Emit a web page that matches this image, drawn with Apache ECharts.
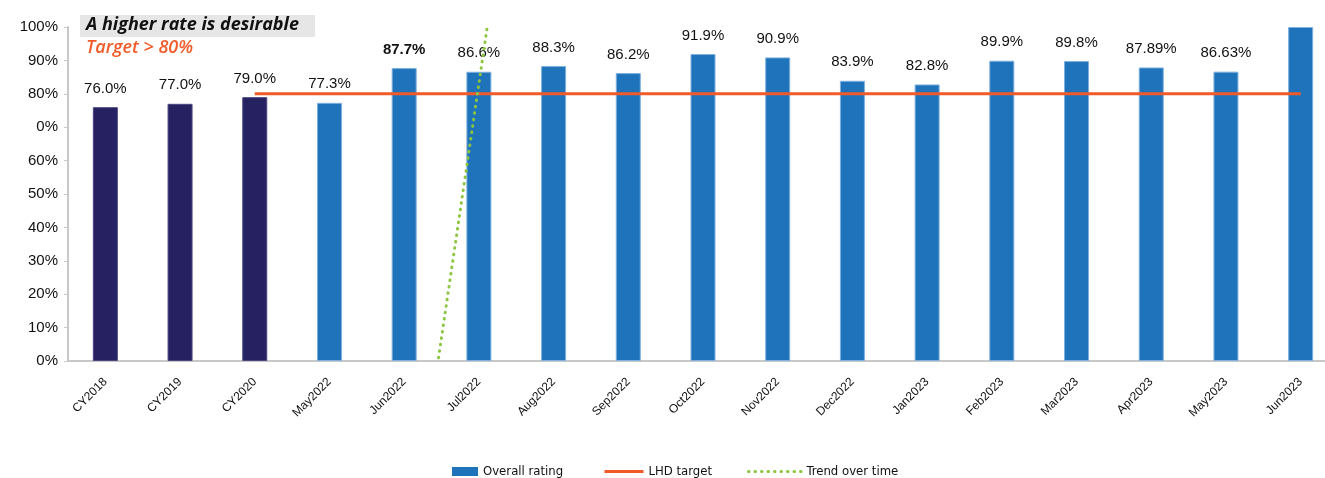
<!DOCTYPE html>
<html>
<head>
<meta charset="utf-8">
<script src="https://cdn.jsdelivr.net/npm/echarts@6/dist/echarts.min.js"></script>
<style>
  html, body { margin: 0; padding: 0; background: #fff; overflow: hidden; width: 1325px; height: 478px; }
  /* the canvas is a little wider than the page: the last category runs past the right edge */
  #chart { width: 1338px; height: 478px; }
</style>
</head>
<body>
<div id="chart"></div>
<script>
// Periods shown along the x axis
const categories = ['CY2018', 'CY2019', 'CY2020', 'May2022', 'Jun2022', 'Jul2022', 'Aug2022',
  'Sep2022', 'Oct2022', 'Nov2022', 'Dec2022', 'Jan2023', 'Feb2023', 'Mar2023', 'Apr2023',
  'May2023', 'Jun2023'];

// Overall rating (%) per period
const ratingValues = [76.0, 77.0, 79.0, 77.3, 87.7, 86.6, 88.3, 86.2, 91.9, 90.9, 83.9, 82.8,
  89.9, 89.8, 87.89, 86.63, 100];
// Decimal places printed in each value label (null = no label)
const labelDecimals = [1, 1, 1, 1, 1, 1, 1, 1, 1, 1, 1, 1, 1, 1, 2, 2, null];
// Calendar-year summaries are drawn in a darker colour
const annualPeriods = ['CY2018', 'CY2019', 'CY2020'];
// Label drawn in bold
const boldLabels = ['Jun2022'];

// LHD target (%), shown from CY2020 onwards
const targetValues = [null, null, 80, 80, 80, 80, 80, 80, 80, 80, 80, 80, 80, 80, 80, 80, 80];

// Trend over time: position along the category index scale and value (%)
const trendX = [4.46, 5.11];
const trendY = [1, 99.7];

// Y-axis tick labels, indexed by tick value / 10
const yTickLabels = ['0%', '10%', '20%', '30%', '40%', '50%', '60%', '0%', '80%', '90%', '100%'];

const navy = '#262261';
const blue = '#1f73bb';
const orange = '#f15a29';
const green = '#8cc63f';

const legendFont = { color: '#111', fontSize: 13, fontFamily: 'Liberation Sans Narrow, DejaVu Sans Condensed, sans-serif' };

const chart = echarts.init(document.getElementById('chart'), null, { renderer: 'canvas' });

const option = {
  animation: false,
  grid: { left: 68, right: 0, top: 27, bottom: 117, containLabel: false },
  xAxis: [
    {
      type: 'category',
      data: categories,
      boundaryGap: true,
      axisLine: { onZero: false, lineStyle: { color: '#c8c8c8', width: 2 } },
      axisTick: { show: false },
      axisLabel: {
        rotate: 45,
        interval: 0,
        margin: 19,
        color: '#111',
        fontSize: 12,
        fontFamily: 'Liberation Sans, Arial, sans-serif'
      }
    },
    {
      type: 'value',
      min: -0.5,
      max: 16.5,
      show: false
    }
  ],
  yAxis: {
    type: 'value',
    min: 0,
    max: 100,
    interval: 10,
    splitLine: { show: false },
    axisLine: { show: true, onZero: false, lineStyle: { color: '#c8c8c8', width: 2 } },
    axisTick: { show: true, length: 4, lineStyle: { color: '#c8c8c8' } },
    axisLabel: {
      margin: 10,
      color: '#111',
      fontSize: 15,
      fontFamily: 'Liberation Sans, Arial, sans-serif',
      formatter: v => yTickLabels[Math.round(v / 10)]
    }
  },
  legend: [
    {
      data: [{ name: 'Overall rating', icon: 'rect' }],
      left: 447, top: 460,
      itemWidth: 26, itemHeight: 9, itemGap: 6,
      textStyle: legendFont
    },
    {
      data: ['LHD target'],
      left: 598, top: 460,
      itemWidth: 39, itemHeight: 9,
      itemStyle: { opacity: 0 },
      lineStyle: { width: 3 },
      textStyle: legendFont
    },
    {
      data: ['Trend over time'],
      left: 742, top: 460,
      itemWidth: 53, itemHeight: 9,
      itemStyle: { opacity: 0 },
      lineStyle: { width: 3, type: [0.5, 6], cap: 'round' },
      textStyle: legendFont
    }
  ],
  graphic: [
    {
      type: 'rect',
      left: 80, top: 15,
      shape: { width: 235, height: 22 },
      style: { fill: '#e6e6e6' },
      silent: true
    },
    {
      type: 'text',
      left: 86, top: 16,
      style: {
        text: 'A higher rate is desirable',
        fill: '#111',
        font: 'italic bold 18px "Open Sans", sans-serif'
      }
    },
    {
      type: 'text',
      left: 86, top: 39,
      style: {
        text: 'Target > 80%',
        fill: orange,
        font: 'italic 600 18px "Open Sans", sans-serif'
      }
    }
  ],
  series: [
    {
      name: 'Overall rating',
      type: 'bar',
      barWidth: 25,
      itemStyle: { color: blue },
      data: ratingValues.map((v, i) => ({
        value: v,
        itemStyle: {
          color: annualPeriods.includes(categories[i]) ? navy : blue,
          borderColor: annualPeriods.includes(categories[i]) ? '#4a4780' : '#7fb0de',
          borderWidth: 1
        },
        label: {
          show: labelDecimals[i] !== null,
          fontWeight: boldLabels.includes(categories[i]) ? 'bold' : 'normal'
        }
      })),
      label: {
        show: true,
        position: 'top',
        distance: 11,
        color: '#111',
        fontSize: 15,
        fontFamily: 'Liberation Sans, Arial, sans-serif',
        formatter: p => {
          const d = labelDecimals[p.dataIndex];
          return d === null ? '' : p.value.toFixed(d) + '%';
        }
      },
      z: 2
    },
    {
      name: 'LHD target',
      type: 'line',
      data: targetValues,
      symbol: 'none',
      color: orange,
      lineStyle: { color: orange, width: 3 },
      z: 3
    },
    {
      name: 'Trend over time',
      type: 'line',
      xAxisIndex: 1,
      data: trendX.map((x, i) => [x, trendY[i]]),
      symbol: 'none',
      color: green,
      lineStyle: { color: green, width: 3, type: [0.5, 6], cap: 'round' },
      z: 4
    }
  ]
};

chart.setOption(option);
</script>
</body>
</html>
